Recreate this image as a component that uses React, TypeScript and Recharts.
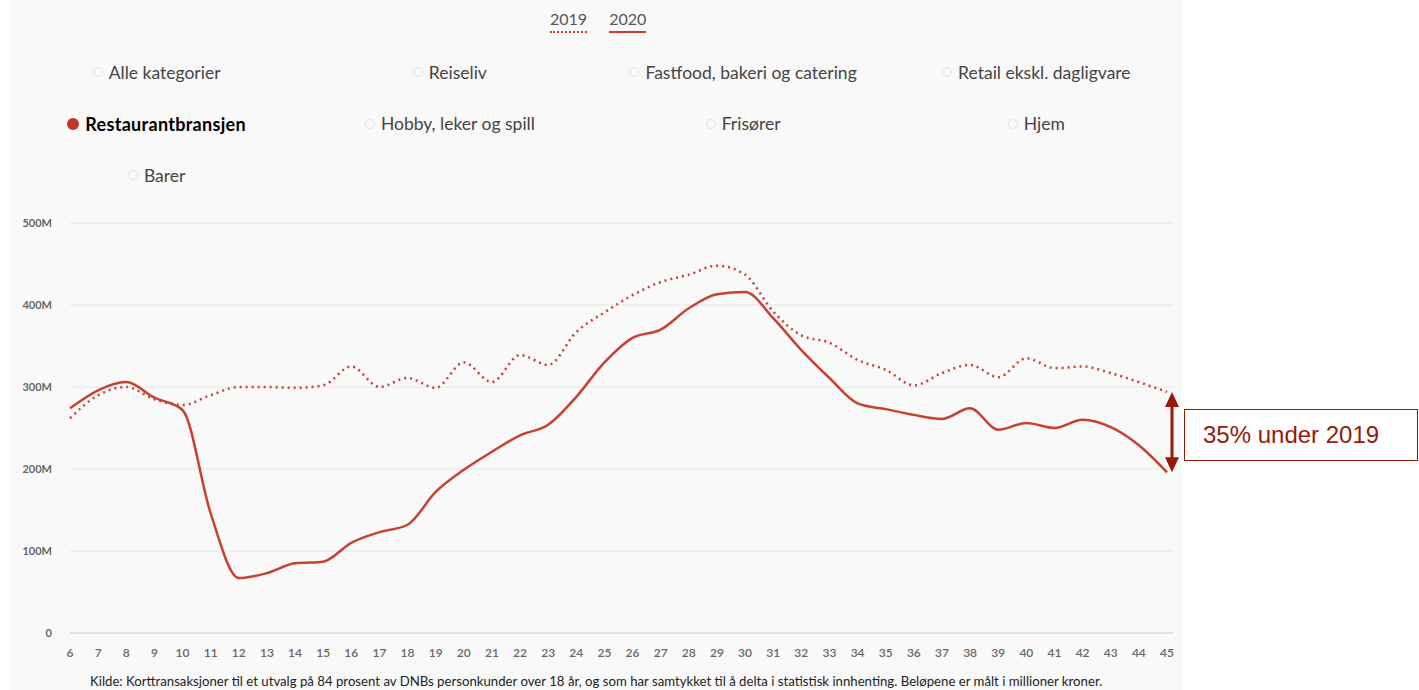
import React from "react";
import { LineChart, Line, XAxis, YAxis, CartesianGrid, ReferenceLine } from "recharts";

const weeks = [6, 7, 8, 9, 10, 11, 12, 13, 14, 15, 16, 17, 18, 19, 20, 21, 22, 23, 24, 25, 26, 27, 28, 29, 30, 31, 32, 33, 34, 35, 36, 37, 38, 39, 40, 41, 42, 43, 44, 45];
const sales2019 = [262, 290, 300, 285, 278, 290, 300, 300, 299, 302, 325, 300, 311, 299, 330, 306, 339, 327, 367, 391, 412, 428, 437, 448, 437, 392, 363, 354, 333, 321, 302, 317, 327, 312, 335, 323, 325, 317, 306, 294];
const sales2020 = [274, 296, 306, 287, 272, 146, 67, 73, 85, 87, 110, 123, 132, 172, 199, 221, 241, 254, 288, 330, 360, 370, 396, 413, 416, 384, 345, 311, 280, 273, 266, 261, 274, 248, 256, 250, 260, 251, 229, 196];
const yTicks = [0, 100, 200, 300, 400, 500];
const years = ["2019", "2020"];
const categories = [
  "Alle kategorier",
  "Reiseliv",
  "Fastfood, bakeri og catering",
  "Retail ekskl. dagligvare",
  "Restaurantbransjen",
  "Hobby, leker og spill",
  "Frisører",
  "Hjem",
  "Barer",
];
const activeCategory = "Restaurantbransjen";
const diffLabel = "35% under 2019";
const sourceText =
  "Kilde: Korttransaksjoner til et utvalg på 84 prosent av DNBs personkunder over 18 år, og som har samtykket til å delta i statistisk innhenting. Beløpene er målt i millioner kroner.";

const data = weeks.map((w, i) => ({ week: w, y2019: sales2019[i], y2020: sales2020[i] }));

const RED = "#c8402e";
const DARK = "#951a08";
const FONT = "Lato, 'Open Sans', sans-serif";

const ArrowShape = (props: any) => {
  const { x1, y1, x2, y2 } = props;
  if (x1 == null) return null;
  const x = x1 + 5;
  const top = Math.min(y1, y2);
  const bot = Math.max(y1, y2);
  const h = 15;
  const w = 7;
  return (
    <g>
      <line x1={x} y1={top + h - 2} x2={x} y2={bot - h + 2} stroke={DARK} strokeWidth={3} />
      <polygon points={`${x},${top} ${x - w},${top + h} ${x + w},${top + h}`} fill={DARK} />
      <polygon points={`${x},${bot} ${x - w},${bot - h} ${x + w},${bot - h}`} fill={DARK} />
    </g>
  );
};

export default function App() {
  const colW = 1173 / 4;
  return (
    <div style={{ position: "absolute", left: 0, top: 0, width: 1419, height: 690, overflow: "hidden", background: "#fff", fontFamily: FONT }}>
      <div style={{ position: "absolute", left: 10, top: 0, width: 1173, height: 690, background: "#f9f9f9" }} />
      {/* Year legend */}
      <div style={{ position: "absolute", left: 550, top: 8, display: "flex", gap: 22 }}>
        {years.map((y, i) => (
          <div key={y} style={{ position: "relative", fontSize: 16, color: "#555", lineHeight: "22px" }}>
            {y}
            <div
              style={{
                position: "absolute",
                left: 0,
                right: 0,
                top: 23,
                height: 0,
                borderTop: i === 0 ? `2px dotted ${RED}` : `2px solid ${RED}`,
              }}
            />
          </div>
        ))}
      </div>
      {/* Category legend */}
      {categories.map((c, i) => {
        const row = Math.floor(i / 4);
        const col = i % 4;
        const active = c === activeCategory;
        return (
          <div
            key={c}
            style={{
              position: "absolute",
              left: 10 + col * colW,
              width: colW,
              top: 72 + row * 51.5 - 12,
              height: 24,
              display: "flex",
              alignItems: "center",
              justifyContent: "center",
              fontSize: active ? 18 : 17.5,
              letterSpacing: active ? 0.3 : 0,
              color: active ? "#000" : "#444",
              fontWeight: active ? 700 : 400,
              whiteSpace: "nowrap",
            }}
          >
            <span
              style={{
                display: "inline-block",
                width: active ? 12 : 10,
                height: active ? 12 : 10,
                borderRadius: "50%",
                boxSizing: "border-box",
                background: active ? "#c0392b" : "transparent",
                border: active ? "none" : "1px solid #e2e2e2",
                marginRight: 6,
              }}
            />
            {c}
          </div>
        );
      })}
      <div style={{ position: "absolute", left: 0, top: 0 }}>
        <LineChart width={1419} height={690} data={data} margin={{ top: 223, right: 246, bottom: 27, left: 10 }}>
          <CartesianGrid horizontal vertical={false} stroke="#e6e6e6" />
          <XAxis
            dataKey="week"
            type="number"
            domain={[6, 45]}
            ticks={weeks}
            interval={0}
            padding={{ left: 0, right: 6 }}
            height={30}
            tickSize={0}
            tickMargin={15}
            axisLine={{ stroke: "#ccd6eb" }}
            tickLine={false}
            tick={{ fill: "#666", fontSize: 12, fontWeight: 600, fontFamily: FONT }}
          />
          <YAxis
            domain={[0, 500]}
            ticks={yTicks}
            width={60}
            axisLine={false}
            tickLine={false}
            tickSize={0}
            tickMargin={18}
            tickFormatter={(v: number) => (v === 0 ? "0" : `${v}M`)}
            tick={{ fill: "#666", fontSize: 11, fontWeight: 700, fontFamily: FONT }}
          />
          <Line
            type="monotone"
            dataKey="y2019"
            stroke={RED}
            strokeWidth={2.5}
            strokeDasharray="2 4"
            dot={false}
            activeDot={false}
            isAnimationActive={false}
          />
          <Line
            type="monotone"
            dataKey="y2020"
            stroke={RED}
            strokeWidth={2.5}
            dot={false}
            activeDot={false}
            isAnimationActive={false}
          />
          <ReferenceLine
            segment={[
              { x: weeks[weeks.length - 1], y: sales2019[sales2019.length - 1] },
              { x: weeks[weeks.length - 1], y: sales2020[sales2020.length - 1] },
            ]}
            ifOverflow="visible"
            shape={ArrowShape}
          />
        </LineChart>
      </div>
      {/* Annotation box */}
      <div
        style={{
          position: "absolute",
          left: 1184,
          top: 409,
          width: 234,
          height: 52,
          boxSizing: "border-box",
          border: `1.5px solid ${DARK}`,
          background: "#fff",
          color: DARK,
          fontFamily: "'Liberation Sans', Arial, sans-serif",
          fontSize: 24,
          lineHeight: "50px",
          paddingLeft: 18,
          whiteSpace: "nowrap",
        }}
      >
        {diffLabel}
      </div>
      {/* Source */}
      <div style={{ position: "absolute", left: 90, top: 673, fontSize: 13.2, lineHeight: "16px", color: "#222", whiteSpace: "nowrap" }}>
        {sourceText}
      </div>
    </div>
  );
}
